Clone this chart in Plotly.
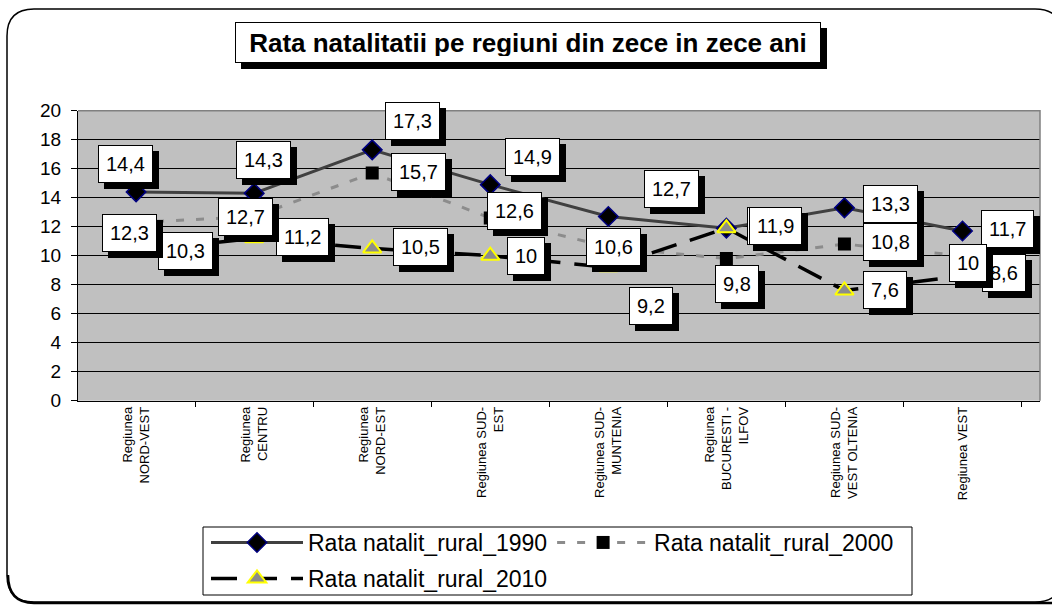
import plotly.graph_objects as go

# ---------------- data ----------------
regions = [
    "Regiunea<br>NORD-VEST",
    "Regiunea<br>CENTRU",
    "Regiunea<br>NORD-EST",
    "Regiunea SUD-<br>EST",
    "Regiunea SUD-<br>MUNTENIA",
    "Regiunea<br>BUCURESTI -<br>ILFOV",
    "Regiunea SUD-<br>VEST OLTENIA",
    "Regiunea VEST",
]
rural_1990 = [14.4, 14.3, 17.3, 14.9, 12.7, 11.9, 13.3, 11.7]
rural_2000 = [12.3, 12.7, 15.7, 12.6, 10.6, 9.8, 10.8, 10.0]
rural_2010 = [10.3, 11.2, 10.5, 10.0, 9.2, 11.9, 7.6, 8.6]
series_names = ["Rata natalit_rural_1990", "Rata natalit_rural_2000", "Rata natalit_rural_2010"]
y_ticks = [0, 2, 4, 6, 8, 10, 12, 14, 16, 18, 20]
title_text = "Rata natalitatii pe regiuni din zece in zece ani"

# ---------------- layout helpers (pixels -> paper) ----------------
W, H = 1052, 605


def px(x):
    return x / W


def py(y):
    return 1 - y / H


# label offsets (dx, dy) in screen pixels, positive dy = down
off_1990 = [(-11, -28), (9, -33), (40, -29), (42, -28), (63, -28), (47, -2), (46, -4), (45, -2)]
off_2000 = [(-7, 11), (-9, 0), (46, -1), (24, -7), (5, 0), (11, 25), (46, -2), (5, 7)]
off_2010 = [(49, 0), (48, -1), (48, -1), (36, 0), (43, 39), (49, -2), (41, -1), (41, -3)]

FONT = "Liberation Sans, Arial, sans-serif"

fig = go.Figure()
fig.add_trace(go.Scatter(
    x=regions, y=rural_1990, name=series_names[0], mode="lines+markers",
    line=dict(color="#404040", width=3),
    marker=dict(symbol="diamond", size=15, color="black", line=dict(color="#000080", width=1.5)),
    legend="legend",
))
fig.add_trace(go.Scatter(
    x=regions, y=rural_2000, name=series_names[1], mode="lines+markers",
    line=dict(color="#8c8c8c", width=3, dash="8px,12px"),
    marker=dict(symbol="square", size=13, color="black"),
    legend="legend",
))
fig.add_trace(go.Scatter(
    x=regions, y=rural_2010, name=series_names[2], mode="lines+markers",
    line=dict(color="black", width=3.5, dash="26px,14px"),
    marker=dict(symbol="triangle-up", size=16, color="#8c8c8c", line=dict(color="#ffff00", width=2)),
    legend="legend2",
))


def fmt(v):
    return f"{v:g}".replace(".", ",")


annotations = []
for vals, offs in ((rural_1990, off_1990), (rural_2010, off_2010), (rural_2000, off_2000)):
    for cat, v, (dx, dy) in zip(regions, vals, offs):
        common = dict(x=cat, y=v, xref="x", yref="y", text=fmt(v), showarrow=False,
                      borderwidth=1, borderpad=7)
        annotations.append(dict(common, xshift=dx + 6, yshift=-dy - 6,
                                font=dict(family=FONT, size=20, color="black"),
                                bgcolor="black", bordercolor="black"))
        annotations.append(dict(common, xshift=dx, yshift=-dy,
                                font=dict(family=FONT, size=20, color="black"),
                                bgcolor="white", bordercolor="black"))

# title box with shadow
tcommon = dict(x=px(528), y=py(43), xref="paper", yref="paper", xanchor="center", yanchor="middle",
               text="<b>" + title_text + "</b>",
               showarrow=False, width=572, height=27, borderpad=6, borderwidth=1)
annotations.insert(0, dict(tcommon, xshift=6, yshift=-6, font=dict(family=FONT, size=26, color="black"),
                           bgcolor="black", bordercolor="black"))
annotations.insert(1, dict(tcommon, font=dict(family=FONT, size=26, color="black"),
                           bgcolor="white", bordercolor="black"))

# outer rounded frame
L, T, B, R, r = 7, 9, 602, 1062, 27
frame = (f"M {px(L)},{py(T + r)} Q {px(L)},{py(T)} {px(L + r)},{py(T)} "
         f"L {px(R - r)},{py(T)} Q {px(R)},{py(T)} {px(R)},{py(T + r)} "
         f"L {px(R)},{py(B - r)} Q {px(R)},{py(B)} {px(R - r)},{py(B)} "
         f"L {px(L + r)},{py(B)} Q {px(L)},{py(B)} {px(L)},{py(B - r)} Z")
frame_shadow = (f"M {px(L + 1)},{py(B - r)} Q {px(L + 1)},{py(B + 1)} {px(L + r)},{py(B + 1)} "
                f"L {px(R)},{py(B + 1)}")

x0d, x1d = 78 / W, 1040 / W
y0d, y1d = 1 - 400.7 / H, 1 - 110.7 / H

shapes = [
    dict(type="path", path=frame, xref="paper", yref="paper", line=dict(color="black", width=1.5),
         layer="below"),
    dict(type="path", path=frame_shadow, xref="paper", yref="paper", line=dict(color="black", width=2.5),
         layer="below"),
    dict(type="path", path=f"M {x0d},{y1d} L {x1d},{y1d} L {x1d},{y0d}", xref="paper", yref="paper",
         line=dict(color="#808080", width=1.5), layer="above"),
    dict(type="rect", x0=px(203), x1=px(912), y0=py(595), y1=py(527), xref="paper", yref="paper",
         line=dict(color="black", width=1), fillcolor="white", layer="below"),
]

fig.update_layout(
    width=W, height=H,
    margin=dict(l=0, r=0, t=0, b=0, autoexpand=False),
    paper_bgcolor="white",
    plot_bgcolor="#c0c0c0",
    font=dict(family=FONT, color="black"),
    showlegend=True,
    legend=dict(orientation="h", x=px(206), y=py(521), xanchor="left", yanchor="top",
                bgcolor="rgba(0,0,0,0)", borderwidth=0, font=dict(size=23, family=FONT),
                itemwidth=92),
    legend2=dict(orientation="h", x=px(206), y=py(557), xanchor="left", yanchor="top",
                 bgcolor="rgba(0,0,0,0)", borderwidth=0, font=dict(size=23, family=FONT),
                 itemwidth=92),
    xaxis=dict(domain=[x0d, x1d], type="category", showgrid=False, showline=True, linecolor="black",
               linewidth=1, ticks="outside", tickson="boundaries", ticklen=5, tickcolor="black",
               tickangle=-90, tickfont=dict(size=13, family=FONT), fixedrange=True, automargin=False),
    yaxis=dict(domain=[y0d, y1d], range=[0, 20], tickvals=y_ticks, showgrid=True, gridcolor="black",
               gridwidth=1, zeroline=False, showline=True, linecolor="black", linewidth=1,
               ticks="outside", ticklen=6, tickcolor="black", tickfont=dict(size=19, family=FONT),
               ticklabelstandoff=6, fixedrange=True, automargin=False),
    annotations=annotations,
    shapes=shapes,
)

fig.write_html("out.html", config={"displayModeBar": False},
               post_script="document.body.style.margin='0';document.body.style.overflow='hidden';")
